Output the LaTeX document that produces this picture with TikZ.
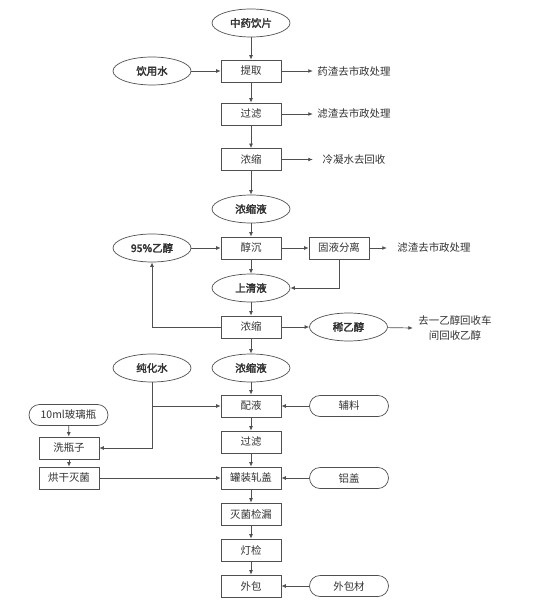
\documentclass[tikz,border=0pt]{standalone}
\usepackage{fontspec}
\setmainfont{Noto Sans CJK SC}[AutoFakeBold=2.5]
\usetikzlibrary{shapes.geometric,arrows.meta}
\definecolor{ln}{HTML}{505050}
\definecolor{tx}{HTML}{333333}
\tikzset{
  base/.style={font=\fontsize{10.5}{12}\selectfont, text=tx},
  stepbox/.style={base, draw=ln, line width=0.7bp, rectangle, minimum width=60bp, minimum height=22bp, inner sep=0pt},
  oval/.style={base, draw=ln, line width=0.7bp, ellipse, minimum width=78bp, minimum height=28bp, inner sep=0pt, font=\fontsize{10.5}{12}\selectfont\bfseries},
  pill/.style={base, draw=ln, line width=0.7bp, rectangle, rounded corners=10.5bp, minimum width=79bp, minimum height=21bp, inner sep=0pt},
  note/.style={base, inner sep=0pt, minimum height=14bp},
  flow/.style={draw=ln, line width=0.7bp, -{Latex[length=4.5bp,width=3.8bp]}},
  plain/.style={draw=ln, line width=0.7bp}
}
\begin{document}
\begin{tikzpicture}[x=1bp,y=-1bp]
\useasboundingbox (0,0) rectangle (556,615);
\fill[white] (0,0) rectangle (556,615);
% main column
\node[oval] (e1) at (251,23) {中药饮片};
\node[oval] (w1) at (152,71) {饮用水};
\node[stepbox] (b1) at (251,71) {提取};
\node[note, minimum width=82bp] (t1) at (354,71) {药渣去市政处理};
\node[stepbox] (b2) at (251,114) {过滤};
\node[note, minimum width=82bp] (t2) at (354,114) {滤渣去市政处理};
\node[stepbox] (b3) at (251,159.5) {浓缩};
\node[note, minimum width=82bp] (t3) at (354,159.5) {冷凝水去回收};
\node[oval] (e2) at (251,209) {浓缩液};
\node[stepbox] (b4) at (251,248) {醇沉};
\node[oval] (w2) at (152,248) {95\%乙醇};
\node[stepbox] (b5) at (339,248) {固液分离};
\node[note, minimum width=94bp] (t4) at (434,248) {滤渣去市政处理};
\node[oval] (e3) at (251,288) {上清液};
\node[stepbox] (b6) at (251,327) {浓缩};
\node[oval] (e4) at (348.5,327) {稀乙醇};
\node[note, minimum width=84bp, align=center, font=\fontsize{10.5}{15}\selectfont] (t5) at (455,328) {去一乙醇回收车\\间回收乙醇};
\node[oval] (w3) at (152,368) {纯化水};
\node[oval] (e5) at (251,368) {浓缩液};
\node[stepbox] (b7) at (251,406) {配液};
\node[pill] (s1) at (349,406) {辅料};
\node[pill] (s2) at (68.5,415) {10ml玻璃瓶};
\node[stepbox] (b8) at (69,448) {洗瓶子};
\node[stepbox] (b9) at (69,478) {烘干灭菌};
\node[stepbox] (b10) at (251,442) {过滤};
\node[stepbox] (b11) at (251,478) {罐装轧盖};
\node[pill] (s3) at (349,478) {铝盖};
\node[stepbox] (b12) at (251,514) {灭菌检漏};
\node[stepbox] (b13) at (251,550) {灯检};
\node[stepbox] (b14) at (251,586) {外包};
\node[pill] (s4) at (349,586) {外包材};
\coordinate (j) at (w3.south |- b7.west);
% connectors
\draw[flow] (e1) -- (b1);
\draw[flow] (w1) -- (b1);
\draw[flow] (b1) -- (t1.west);
\draw[flow] (b1) -- (b2);
\draw[flow] (b2) -- (t2.west);
\draw[flow] (b2) -- (b3);
\draw[flow] (b3) -- (t3.west);
\draw[flow] (b3) -- (e2);
\draw[flow] (e2) -- (b4);
\draw[flow] (w2) -- (b4);
\draw[flow] (b4) -- (b5);
\draw[flow] (b5) -- (t4.west);
\draw[flow] (b4) -- (e3);
\draw[flow] (b5.south) |- (e3.east);
\draw[flow] (e3) -- (b6);
\draw[flow] (b6.west) -| (w2.south);
\draw[flow] (b6) -- (e4);
\draw[flow] (e4) -- (t5.west);
\draw[flow] (b6) -- (e5);
\draw[flow] (e5) -- (b7);
\draw[flow] (w3.south) |- (b8.east);
\draw[flow] (j) -- (b7.west);
\draw[flow] (s1) -- (b7);
\draw[flow] (b7) -- (b10);
\draw[flow] (s2) -- (b8);
\draw[flow] (b8) -- (b9);
\draw[flow] (b9) -- (b11);
\draw[flow] (b10) -- (b11);
\draw[flow] (s3) -- (b11);
\draw[flow] (b11) -- (b12);
\draw[flow] (b12) -- (b13);
\draw[flow] (b13) -- (b14);
\draw[flow] (s4) -- (b14);
\end{tikzpicture}
\end{document}
